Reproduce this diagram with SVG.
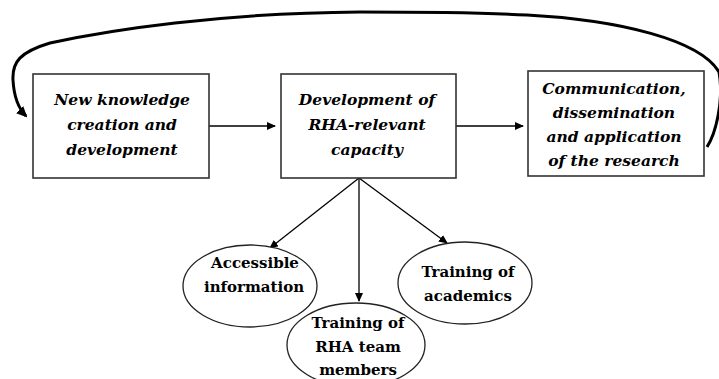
<svg xmlns="http://www.w3.org/2000/svg" width="719" height="379" viewBox="0 0 719 379">
<style>
.box{fill:#fff;stroke:#333;stroke-width:1.6}
.ell{fill:#fff;stroke:#222;stroke-width:1.3}
.bt{font-family:"DejaVu Serif","Liberation Serif",serif;font-weight:bold;font-style:italic;font-size:15.5px;fill:#000;text-anchor:middle}
.et{font-family:"DejaVu Serif","Liberation Serif",serif;font-weight:bold;font-size:15px;fill:#000;text-anchor:middle}
.ln{fill:none;stroke:#000;stroke-width:1.3}
.loop{fill:none;stroke:#000;stroke-width:3}
</style>
<defs>
<marker id="ah" markerWidth="9" markerHeight="8" refX="8" refY="4" orient="auto" markerUnits="userSpaceOnUse">
<path d="M0,0 L9,4 L0,8 Z" fill="#000"/>
</marker>
<marker id="ah2" markerWidth="11" markerHeight="10" refX="9" refY="5" orient="auto" markerUnits="userSpaceOnUse">
<path d="M0,0 L11,5 L0,10 Z" fill="#000"/>
</marker>
</defs>
<g id="connectors">
<path class="loop" d="M707,147 C716,133 724,100 719,72 C700,40 620,20 527,15 C470,12 420,12 360,12 C220,13 110,30 50,43 C20,52 12,62 13,80 C14,98 19,109 26,116" marker-end="url(#ah2)"/>
<line class="ln" x1="209" y1="126" x2="275" y2="126" marker-end="url(#ah)"/>
<line class="ln" x1="456" y1="126" x2="523" y2="126" marker-end="url(#ah)"/>
<line class="ln" x1="359" y1="178" x2="270" y2="248" marker-end="url(#ah)"/>
<line class="ln" x1="359" y1="178" x2="359" y2="301" marker-end="url(#ah)"/>
<line class="ln" x1="359" y1="178" x2="447" y2="243" marker-end="url(#ah)"/>
</g>
<g id="box1">
<rect class="box" x="33" y="74" width="176" height="104"/>
<text class="bt" x="122" y="105">New knowledge</text>
<text class="bt" x="122" y="130">creation and</text>
<text class="bt" x="122" y="155">development</text>
</g>
<g id="box2">
<rect class="box" x="281" y="74" width="175" height="104"/>
<text class="bt" x="367" y="105">Development of</text>
<text class="bt" x="367" y="130">RHA-relevant</text>
<text class="bt" x="367" y="155">capacity</text>
</g>
<g id="box3">
<rect class="box" x="528" y="71" width="176" height="105"/>
<text class="bt" x="614" y="94">Communication,</text>
<text class="bt" x="614" y="118">dissemination</text>
<text class="bt" x="614" y="142">and application</text>
<text class="bt" x="614" y="166">of the research</text>
</g>
<g id="ell1">
<ellipse class="ell" cx="250" cy="286" rx="67" ry="41"/>
<text class="et" x="255" y="268">Accessible</text>
<text class="et" x="254" y="292">information</text>
</g>
<g id="ell2">
<ellipse class="ell" cx="356" cy="345" rx="69" ry="42"/>
<text class="et" x="358" y="328">Training of</text>
<text class="et" x="358" y="352">RHA team</text>
<text class="et" x="358" y="375">members</text>
</g>
<g id="ell3">
<ellipse class="ell" cx="465" cy="283" rx="67" ry="41"/>
<text class="et" x="468" y="277">Training of</text>
<text class="et" x="468" y="301">academics</text>
</g>
</svg>
